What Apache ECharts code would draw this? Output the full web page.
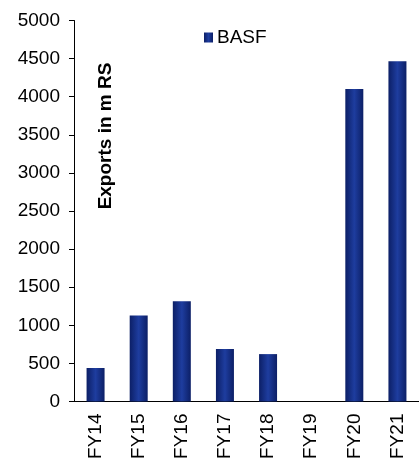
<!DOCTYPE html>
<html>
<head>
<meta charset="utf-8">
<script src="https://cdn.jsdelivr.net/npm/echarts@6/dist/echarts.min.js"></script>
<style>
    html, body { margin: 0; padding: 0; background: #fff; }
    #myChart { width: 419px; height: 463px; }
</style>
</head>
<body>
<div id="myChart"></div>
<script>
    // 数据
    var categories = ['FY14', 'FY15', 'FY16', 'FY17', 'FY18', 'FY19', 'FY20', 'FY21'];
    var basf = [440, 1130, 1315, 688, 622, 0, 4100, 4465];
    var seriesName = 'BASF';
    var axisTitle = 'Exports in m RS';

    var font = 'Arial, "Liberation Sans", sans-serif';
    var barColor = new echarts.graphic.LinearGradient(0, 0, 1, 0, [
        { offset: 0, color: '#0c1f66' },
        { offset: 0.5, color: '#1e3d9f' },
        { offset: 1, color: '#0c1f66' }
    ]);

    var myChart = echarts.init(document.getElementById('myChart'));
    myChart.setOption({
        animation: false,
        legend: {
            data: [{ name: seriesName, icon: 'rect' }],
            left: 199,
            top: 23,
            itemWidth: 9,
            itemHeight: 10,
            itemGap: 5,
            textStyle: { fontFamily: font, fontSize: 19, color: '#000', padding: [0, 0, 0, -1] }
        },
        grid: {
            left: 74,
            top: 20.5,
            right: -5,
            bottom: 61.5,
            containLabel: false
        },
        xAxis: {
            type: 'category',
            data: categories,
            axisLine: { lineStyle: { color: '#000', width: 1 } },
            axisTick: { length: 5, lineStyle: { color: '#000' } },
            axisLabel: {
                rotate: 90,
                margin: 12,
                fontFamily: font,
                fontSize: 19,
                color: '#000'
            }
        },
        yAxis: {
            type: 'value',
            min: 0,
            max: 5000,
            interval: 500,
            axisLine: { show: true, lineStyle: { color: '#000', width: 1 } },
            axisTick: { show: true, length: 5, lineStyle: { color: '#000' } },
            splitLine: { show: false },
            axisLabel: {
                margin: 14,
                fontFamily: font,
                fontSize: 19,
                color: '#000',
                formatter: function (v) { return String(v); }
            }
        },
        graphic: [{
            type: 'text',
            x: 106,
            y: 136,
            rotation: Math.PI / 2,
            style: {
                text: axisTitle,
                fontFamily: font,
                fontSize: 19,
                fontWeight: 'bold',
                fill: '#000',
                align: 'center',
                verticalAlign: 'middle'
            }
        }],
        series: [{
            name: seriesName,
            type: 'bar',
            data: basf,
            barWidth: 18,
            itemStyle: { color: barColor }
        }]
    });
</script>
</body>
</html>
